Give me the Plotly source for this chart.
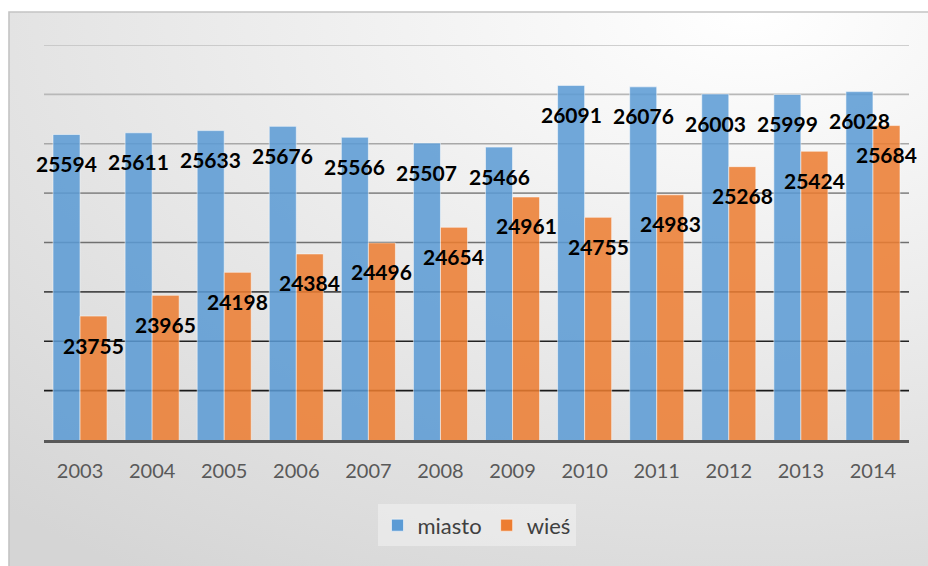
import base64
import plotly.graph_objects as go

years = ["2003", "2004", "2005", "2006", "2007", "2008", "2009", "2010", "2011", "2012", "2013", "2014"]
miasto = [25594, 25611, 25633, 25676, 25566, 25507, 25466, 26091, 26076, 26003, 25999, 26028]
wies = [23755, 23965, 24198, 24384, 24496, 24654, 24961, 24755, 24983, 25268, 25424, 25684]
series_names = ["miasto", "wieś"]

Y_MIN, Y_MAX, Y_STEP = 22500, 26500, 500

W, H = 928, 566
ML, MR, MT, MB = 44, 19, 45, 126
PW, PH = W - ML - MR, H - MT - MB

BLUE = "#5b9bd5"
ORANGE = "#ed7d31"

fig = go.Figure()
for name, vals, col in [(series_names[0], miasto, BLUE), (series_names[1], wies, ORANGE)]:
    fig.add_trace(go.Bar(
        x=years, y=vals, name=name,
        marker=dict(color=col, opacity=0.86, line=dict(color="rgba(255,255,255,0.55)", width=1)),
        hoverinfo="x+y",
    ))

# data labels as annotations (inside near top of each bar); category index on the x axis
cat_w = PW / len(years)
bar_w = cat_w * 0.75 / 2
for i, yr in enumerate(years):
    for vals, sh in [(miasto, -bar_w / 2), (wies, bar_w / 2)]:
        fig.add_annotation(
            x=i, y=vals[i], text=str(vals[i]), showarrow=False,
            xshift=sh, yshift=-29,
            font=dict(family="Lato", size=21, color="#000000", weight="bold"),
        )

# gridlines with varying darkness
grid_vals = list(range(Y_MIN + Y_STEP, Y_MAX + 1, Y_STEP))
grid_cols = ["#1a1a1a", "#222222", "#4a4a4a", "#707070", "#8e8e8e", "#a8a8a8", "#b8b8b8", "#c0c0c0"]
for gv, gc in zip(grid_vals, grid_cols):
    fig.add_shape(type="line", xref="paper", yref="y", x0=0, x1=1, y0=gv, y1=gv,
                  line=dict(color=gc, width=1.6), layer="below")

# gradient background
svg = (
    '<svg xmlns="http://www.w3.org/2000/svg" width="920" height="560" preserveAspectRatio="none" viewBox="0 0 920 560">'
    '<defs><radialGradient id="g" cx="0.8" cy="0" r="1.2" gradientUnits="objectBoundingBox">'
    '<stop offset="0" stop-color="#ffffff"/><stop offset="1" stop-color="#d5d5d5"/>'
    '</radialGradient></defs><rect x="0" y="0" width="920" height="560" fill="url(#g)"/></svg>'
)
src = "data:image/svg+xml;base64," + base64.b64encode(svg.encode()).decode()
FX, FY = 9, 12
fx0 = (FX - ML) / PW
fy1 = 1 + (MT - FY) / PH
fig.add_layout_image(dict(source=src, xref="paper", yref="paper", x=fx0, y=fy1,
                          sizex=(W + 5 - FX) / PW, sizey=(H + 5 - FY) / PH,
                          sizing="stretch", xanchor="left", yanchor="top", layer="below"))
fig.add_shape(type="rect", xref="paper", yref="paper", x0=fx0, x1=fx0 + (W + 10 - FX) / PW,
              y0=fy1 - (H + 10 - FY) / PH, y1=fy1,
              line=dict(color="#c4c4c4", width=1.6), fillcolor="rgba(0,0,0,0)", layer="below")

fig.update_layout(
    width=W, height=H,
    margin=dict(l=ML, r=MR, t=MT, b=MB),
    paper_bgcolor="#ffffff", plot_bgcolor="rgba(0,0,0,0)",
    barmode="group", bargap=0.25, bargroupgap=0,
    font=dict(family="Lato", color="#595959"),
    showlegend=True,
    legend=dict(orientation="h", x=0.5, xanchor="center", y=-0.163, yanchor="top",
                bgcolor="rgba(242,242,242,0.55)", font=dict(size=22, color="#404040"),
                itemwidth=30, traceorder="normal", borderwidth=0),
    xaxis=dict(type="category", range=[-0.5, len(years) - 0.5], autorange=False,
               showgrid=False, showline=True, linecolor="#595959", linewidth=3,
               ticks="", ticklabelstandoff=11, tickfont=dict(size=20, color="#595959"),
               fixedrange=True),
    yaxis=dict(range=[Y_MIN, Y_MAX], autorange=False, showgrid=False, showticklabels=False,
               zeroline=False, showline=False, ticks="", fixedrange=True),
)

fig.write_html("out.html", config={"displayModeBar": False},
               post_script="document.body.style.margin='0';document.body.style.overflow='hidden';")
